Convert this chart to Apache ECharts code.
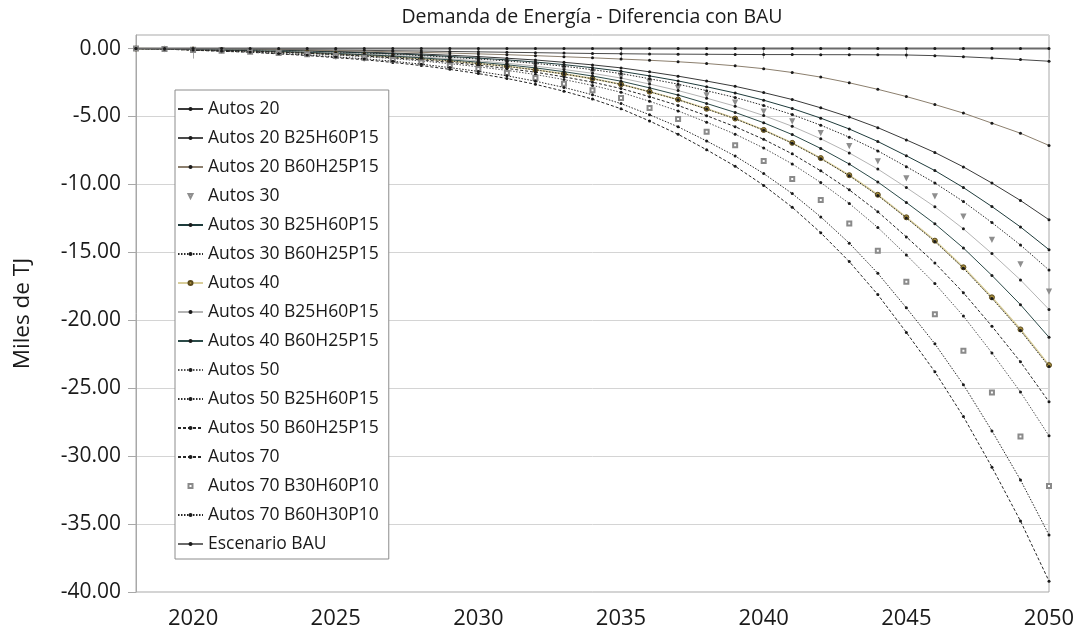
<!DOCTYPE html>
<html>
<head>
<meta charset="utf-8">
<script src="https://cdn.jsdelivr.net/npm/echarts@6/dist/echarts.min.js"></script>
<style>
  html, body { margin: 0; padding: 0; background: #ffffff; }
  #chart { width: 1088px; height: 639px; }
</style>
</head>
<body>
<div id="chart"></div>
<script>
// Years on the horizontal axis
const years = [];
for (let y = 2018; y <= 2050; y++) years.push(String(y));

// Difference in energy demand against BAU (thousands of TJ), one array per scenario
const autos20 = [0, -0.01, -0.04, -0.06, -0.09, -0.13, -0.16, -0.21, -0.26, -0.33, -0.40, -0.49, -0.59, -0.71, -0.84, -1.01, -1.20, -1.42, -1.71, -2.03, -2.39, -2.78, -3.24, -3.75, -4.36, -5.04, -5.82, -6.72, -7.65, -8.71, -9.90, -11.18, -12.60];
const autos20B25 = [0, -0.01, -0.02, -0.03, -0.05, -0.07, -0.09, -0.11, -0.13, -0.16, -0.18, -0.21, -0.24, -0.27, -0.30, -0.33, -0.36, -0.38, -0.40, -0.41, -0.42, -0.43, -0.44, -0.44, -0.45, -0.45, -0.46, -0.47, -0.52, -0.60, -0.70, -0.81, -0.93];
const autos20B60 = [0, -0.01, -0.02, -0.04, -0.06, -0.09, -0.12, -0.15, -0.19, -0.23, -0.28, -0.33, -0.39, -0.45, -0.52, -0.60, -0.68, -0.77, -0.86, -0.97, -1.10, -1.27, -1.48, -1.76, -2.10, -2.52, -3.00, -3.53, -4.12, -4.75, -5.49, -6.23, -7.13];
const autos30 = [0, -0.02, -0.05, -0.09, -0.12, -0.18, -0.23, -0.30, -0.37, -0.46, -0.57, -0.70, -0.84, -1.00, -1.20, -1.43, -1.70, -2.02, -2.43, -2.87, -3.39, -3.94, -4.59, -5.32, -6.18, -7.14, -8.25, -9.51, -10.83, -12.33, -14.03, -15.83, -17.85];
const autos30B25 = [0, -0.01, -0.04, -0.07, -0.10, -0.15, -0.19, -0.25, -0.31, -0.38, -0.47, -0.58, -0.70, -0.83, -0.99, -1.18, -1.41, -1.67, -2.01, -2.38, -2.81, -3.27, -3.80, -4.41, -5.12, -5.92, -6.84, -7.89, -8.98, -10.23, -11.63, -13.13, -14.80];
const autos30B60 = [0, -0.02, -0.05, -0.08, -0.11, -0.16, -0.21, -0.28, -0.34, -0.42, -0.52, -0.64, -0.77, -0.91, -1.09, -1.30, -1.55, -1.84, -2.22, -2.62, -3.10, -3.60, -4.19, -4.86, -5.64, -6.52, -7.53, -8.69, -9.89, -11.26, -12.81, -14.46, -16.30];
const autos40 = [0, -0.02, -0.07, -0.12, -0.16, -0.23, -0.30, -0.40, -0.49, -0.61, -0.75, -0.91, -1.10, -1.30, -1.56, -1.86, -2.21, -2.63, -3.17, -3.75, -4.43, -5.15, -5.99, -6.94, -8.06, -9.32, -10.76, -12.42, -14.14, -16.10, -18.31, -20.67, -23.30];
const autos40B25 = [0, -0.02, -0.06, -0.10, -0.13, -0.19, -0.25, -0.33, -0.40, -0.50, -0.61, -0.75, -0.90, -1.08, -1.29, -1.54, -1.82, -2.17, -2.61, -3.09, -3.65, -4.24, -4.93, -5.72, -6.64, -7.68, -8.87, -10.23, -11.65, -13.27, -15.09, -17.03, -19.20];
const autos40B60 = [0, -0.02, -0.06, -0.11, -0.15, -0.21, -0.28, -0.36, -0.45, -0.55, -0.68, -0.83, -1.00, -1.19, -1.42, -1.70, -2.02, -2.40, -2.89, -3.42, -4.04, -4.70, -5.46, -6.33, -7.35, -8.50, -9.82, -11.33, -12.90, -14.68, -16.70, -18.85, -21.25];
const autos50 = [0, -0.03, -0.09, -0.14, -0.20, -0.29, -0.37, -0.48, -0.60, -0.74, -0.91, -1.11, -1.34, -1.60, -1.91, -2.28, -2.71, -3.22, -3.88, -4.59, -5.42, -6.30, -7.32, -8.49, -9.86, -11.40, -13.17, -15.19, -17.30, -19.69, -22.40, -25.28, -28.50];
const autos50B25 = [0, -0.02, -0.07, -0.12, -0.16, -0.23, -0.30, -0.40, -0.49, -0.61, -0.75, -0.91, -1.10, -1.31, -1.57, -1.87, -2.22, -2.64, -3.18, -3.77, -4.45, -5.17, -6.01, -6.97, -8.10, -9.36, -10.81, -12.47, -14.20, -16.17, -18.39, -20.76, -23.40];
const autos50B60 = [0, -0.03, -0.08, -0.13, -0.18, -0.26, -0.34, -0.44, -0.55, -0.68, -0.83, -1.01, -1.22, -1.46, -1.74, -2.08, -2.47, -2.94, -3.54, -4.19, -4.94, -5.75, -6.68, -7.75, -9.00, -10.40, -12.01, -13.86, -15.78, -17.97, -20.44, -23.06, -26.00];
const autos70 = [0, -0.04, -0.12, -0.20, -0.27, -0.39, -0.51, -0.67, -0.82, -1.02, -1.25, -1.53, -1.84, -2.20, -2.63, -3.14, -3.72, -4.43, -5.33, -6.31, -7.45, -8.66, -10.07, -11.68, -13.56, -15.68, -18.11, -20.89, -23.79, -27.09, -30.81, -34.77, -39.20];
const autos70B30 = [0, -0.03, -0.10, -0.16, -0.23, -0.32, -0.42, -0.55, -0.68, -0.84, -1.03, -1.26, -1.51, -1.80, -2.16, -2.58, -3.06, -3.64, -4.38, -5.18, -6.12, -7.12, -8.28, -9.60, -11.14, -12.88, -14.88, -17.16, -19.55, -22.25, -25.31, -28.56, -32.20];
const autos70B60 = [0, -0.04, -0.11, -0.18, -0.25, -0.36, -0.47, -0.61, -0.75, -0.93, -1.15, -1.40, -1.68, -2.00, -2.40, -2.86, -3.40, -4.05, -4.87, -5.76, -6.80, -7.91, -9.20, -10.67, -12.39, -14.32, -16.54, -19.08, -21.73, -24.74, -28.14, -31.75, -35.80];
const escenarioBAU = [0, 0, 0, 0, 0, 0, 0, 0, 0, 0, 0, 0, 0, 0, 0, 0, 0, 0, 0, 0, 0, 0, 0, 0, 0, 0, 0, 0, 0, 0, 0, 0, 0];

// Scenario names in legend order
const seriesNames = [
  'Autos 20', 'Autos 20 B25H60P15', 'Autos 20 B60H25P15',
  'Autos 30', 'Autos 30 B25H60P15', 'Autos 30 B60H25P15',
  'Autos 40', 'Autos 40 B25H60P15', 'Autos 40 B60H25P15',
  'Autos 50', 'Autos 50 B25H60P15', 'Autos 50 B60H25P15',
  'Autos 70', 'Autos 70 B30H60P10', 'Autos 70 B60H30P10',
  'Escenario BAU'
];
const seriesData = [
  autos20, autos20B25, autos20B60,
  autos30, autos30B25, autos30B60,
  autos40, autos40B25, autos40B60,
  autos50, autos50B25, autos50B60,
  autos70, autos70B30, autos70B60,
  escenarioBAU
];

// Drawing style of each scenario line
const DOT = [1.5, 1.5];
const DASH = [3, 2];
const styles = [
  { line: '#3a3a3a', type: 'solid' },
  { line: '#4a4a4a', type: 'solid' },
  { line: '#8c7f6e', type: 'solid' },
  { line: null, symbol: 'emptyTriangle', rotate: 180, size: 3, mark: '#8e8e8e' },
  { line: '#1e3b3b', type: 'solid' },
  { line: '#2a2a2a', type: DOT },
  { line: '#d8cd9a', type: 'solid', width: 1.6, symbol: 'circle', size: 5, mark: '#a88f3c', border: '#5b4a1c' },
  { line: '#b4b4b4', type: 'solid' },
  { line: '#2b4a48', type: 'solid' },
  { line: '#555555', type: DOT },
  { line: '#2f2f2f', type: DOT },
  { line: '#262626', type: DASH },
  { line: '#262626', type: DASH },
  { line: null, symbol: 'emptyRect', size: 4, mark: '#8a8a8a' },
  { line: '#262626', type: DOT },
  { line: '#6a6a6a', type: 'solid', width: 2 }
];

const series = seriesNames.map((name, i) => {
  const s = styles[i];
  const item = {
    color: s.mark || '#1a1a1a'
  };
  if (s.border) { item.borderColor = s.border; item.borderWidth = 1; }
  return {
    name: name,
    type: 'line',
    data: seriesData[i],
    smooth: false,
    symbol: s.symbol || 'circle',
    symbolSize: s.size || 3,
    symbolRotate: s.rotate || 0,
    showAllSymbol: true,
    itemStyle: item,
    lineStyle: s.line
      ? { color: s.line, width: s.width || 1, type: s.type }
      : { width: 0, opacity: 0 },
    emphasis: { disabled: true },
    z: 2 + i
  };
});

const FONT = '"Open Sans", "Noto Sans", sans-serif';
const chart = echarts.init(document.getElementById('chart'), null, { renderer: 'canvas' });
chart.setOption({
  animation: false,
  backgroundColor: '#ffffff',
  title: {
    text: 'Demanda de Energía - Diferencia con BAU',
    left: 587,
    textAlign: 'center',
    top: 2,
    textStyle: { fontFamily: FONT, fontSize: 19.5, fontWeight: 'normal', color: '#1a1a1a' }
  },
  grid: {
    left: 136, right: 39, top: 35, bottom: 47,
    show: true, borderColor: '#a8a8a8', borderWidth: 1
  },
  legend: {
    orient: 'vertical',
    left: 175,
    top: 90,
    padding: [10, 10, 6, 2],
    itemGap: 11,
    itemWidth: 25,
    itemHeight: 5,
    borderColor: '#8c8c8c',
    borderWidth: 1,
    backgroundColor: '#ffffff',
    data: seriesNames,
    textStyle: { fontFamily: FONT, fontSize: 17.5, color: '#1a1a1a' },
    selectedMode: false
  },
  xAxis: {
    type: 'category',
    data: years,
    boundaryGap: false,
    axisLine: { show: true, lineStyle: { color: '#a8a8a8' } },
    axisTick: {
      show: true, alignWithLabel: true, length: 10,
      interval: (idx, val) => Number(val) % 5 === 0,
      lineStyle: { color: '#a8a8a8' }
    },
    axisLabel: {
      interval: (idx, val) => Number(val) % 5 === 0,
      fontFamily: FONT, fontSize: 22, color: '#1a1a1a', margin: 16
    },
    splitLine: { show: false }
  },
  yAxis: {
    type: 'value',
    min: -40,
    max: 1,
    interval: 5,
    name: 'Miles de TJ',
    nameLocation: 'middle',
    nameGap: 102,
    nameTextStyle: { fontFamily: FONT, fontSize: 22.5, color: '#1a1a1a' },
    axisLine: { show: true, lineStyle: { color: '#a8a8a8' } },
    axisTick: { show: true, length: 8, lineStyle: { color: '#a8a8a8' } },
    axisLabel: {
      showMaxLabel: false,
      formatter: v => v.toFixed(2),
      fontFamily: FONT, fontSize: 21, color: '#1a1a1a', margin: 15
    },
    splitLine: { show: true, lineStyle: { color: '#d4d4d4', width: 1 } }
  },
  series: series
});
</script>
</body>
</html>
